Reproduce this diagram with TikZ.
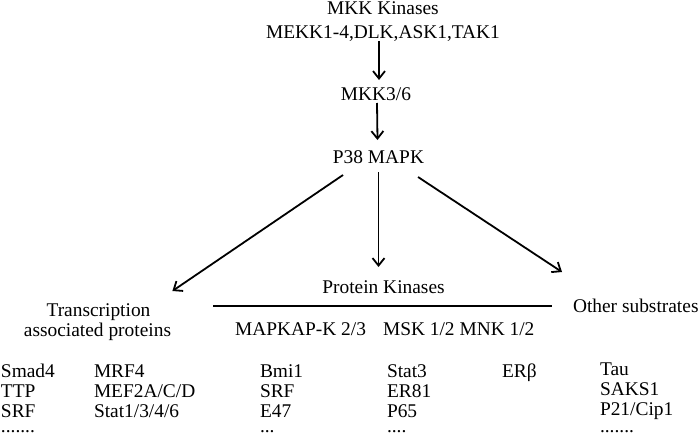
\documentclass[tikz,border=0pt]{standalone}
\usepackage{fontspec}
\setmainfont{Liberation Serif}
\usetikzlibrary{arrows.meta,calc}
\begin{document}
\begin{tikzpicture}[x=1pt,y=-1pt,
  lbl/.style={inner sep=0pt, outer sep=0pt, text height=13pt, text depth=4pt,
    font=\fontsize{19.4}{20}\selectfont},
  dotrow/.style={lbl, text height=3pt, text depth=0pt, anchor=base west},
  arr/.style={-{Straight Barb[length=7.5pt,width=12pt]}, line width=1.8pt},
  plain/.style={line width=1.8pt}]
\fill[white] (0,0) rectangle (700,436);
\useasboundingbox (0,0) rectangle (700,436);
% top chain
\node[lbl, anchor=base] (mkk) at (383,15) {MKK Kinases};
\node[lbl, anchor=base] (mekk) at (383,38) {MEKK1-4,DLK,ASK1,TAK1};
\node[lbl, anchor=base] (mkk36) at (376,100) {MKK3/6};
\node[lbl, anchor=base] (p38) at (378.5,163) {P38 MAPK};
% categories
\node[lbl, anchor=base] (trans1) at (98.5,316) {Transcription};
\node[lbl, anchor=base] (trans2) at (97.5,336) {associated proteins};
\node[lbl, anchor=base] (pk) at (383.5,293) {Protein Kinases};
\node[lbl, anchor=base west] (other) at (573,312) {Other substrates};
\node[lbl, anchor=base west] (mapkap) at (235,335) {MAPKAP-K 2/3};
\node[lbl, anchor=base west] (msk) at (383,335) {MSK 1/2 MNK 1/2};
% arrows
\draw[arr] ($(mekk.south)+(-4,-1)$) -- ($(mkk36.north)+(3,-7)$);
\draw[arr] ($(mkk36.south)+(1,-1)$) -- ($(p38.north)+(-1,-10)$);
\draw[arr] ($(p38.south)+(-35.5,8)$) -- ($(trans1.north east)+(22,-12)$);
\draw[arr, shorten <=5pt, shorten >=13pt] (p38.south) -- (p38.south |- pk.north);
\draw[arr] ($(p38.south)+(39.5,10)$) -- ($(other.north west)+(-11,-27)$);
% separator line
\coordinate (hla) at (213,306);
\coordinate (hlb) at (552,306);
\draw[plain] (hla) -- (hlb);
% lists
\foreach \t [count=\i] in {Smad4,TTP,SRF}
  \node[lbl, anchor=base west] (ca\i) at (1,357+20*\i) {\t};
\node[dotrow] (ca4) at (1,432) {.......};
\foreach \t [count=\i] in {MRF4,MEF2A/C/D,Stat1/3/4/6}
  \node[lbl, anchor=base west] (cb\i) at (94,357+20*\i) {\t};
\foreach \t [count=\i] in {Bmi1,SRF,E47}
  \node[lbl, anchor=base west] (cc\i) at (260,357+20*\i) {\t};
\node[dotrow] (cc4) at (260,432) {...};
\foreach \t [count=\i] in {Stat3,ER81,P65}
  \node[lbl, anchor=base west] (cd\i) at (387,357+20*\i) {\t};
\node[dotrow] (cd4) at (387,432) {....};
\node[lbl, anchor=base west] (ce1) at (502,377) {ERβ};
\foreach \t [count=\i] in {Tau,SAKS1,P21/Cip1}
  \node[lbl, anchor=base west] (cf\i) at (600,355+20*\i) {\t};
\node[dotrow] (cf4) at (600,432) {.......};
\end{tikzpicture}
\end{document}
